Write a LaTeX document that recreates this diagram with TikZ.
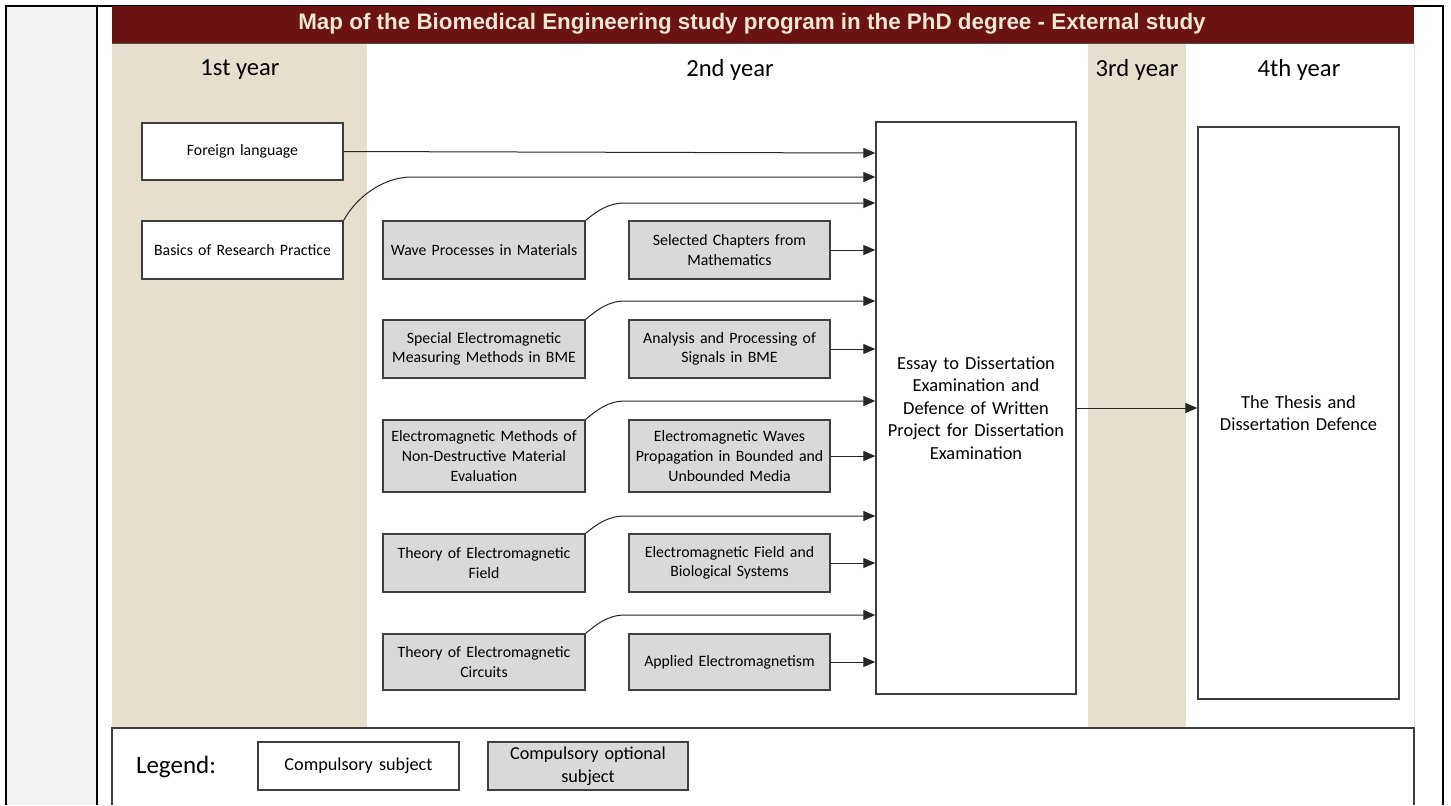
\documentclass[tikz,border=0pt]{standalone}
\usepackage{fontspec}
\setmainfont{Carlito}
\newfontfamily\arialf{Liberation Sans}
\usetikzlibrary{arrows.meta}
\definecolor{titlered}{HTML}{6B1212}
\definecolor{beige}{HTML}{E7DFCD}
\definecolor{titletext}{HTML}{EFE6D4}
\definecolor{optgray}{HTML}{D9D9D9}
\definecolor{stripgray}{HTML}{F2F2F2}
\definecolor{boxline}{HTML}{3F3F3F}
\begin{document}
\begin{tikzpicture}[x=0.5pt,y=-0.5pt,
  subj/.style={draw=boxline, line width=0.7pt, fill=white, inner sep=0pt,
    minimum width=100.5pt, minimum height=29pt, align=center, text width=98pt,
    font=\fontsize{7.9}{9.8}\selectfont},
  opt/.style={subj, fill=optgray},
  bigbox/.style={draw=boxline, line width=0.7pt, fill=white, inner sep=0pt,
    minimum width=100.5pt, minimum height=286pt, align=center, text width=98pt,
    font=\fontsize{9.2}{11.3}\selectfont},
  arr/.style={-{Triangle[length=6pt,width=5pt]}, line width=0.5pt, draw=black!85},
  yearlbl/.style={font=\fontsize{12.3}{14}\selectfont, inner sep=0pt},
  frame/.style={black, line width=1.1pt}]
\useasboundingbox (0,0) rectangle (1451,805);
\fill[white] (0,0) rectangle (1451,805);
% left strip and outer frame
\fill[stripgray] (6,6) rectangle (97,805);
\draw[frame] (6,805) -- (6,6) -- (1443,6) -- (1443,805);
\draw[frame] (97,6) -- (97,805);
% panel backgrounds
\fill[beige] (112,43) rectangle (367,728);
\fill[beige] (1088,43) rectangle (1186,728);
\draw[black!12, line width=0.5pt] (1414,43) -- (1414,728);
% title bar
\fill[titlered] (112,6) rectangle (1414,43);
\draw[black!70, line width=0.5pt] (112,43) -- (1414,43);
\node[font=\arialf\bfseries\fontsize{11.2}{12}\selectfont, text=titletext, inner sep=0pt] (title) at (752,24)
  {Map of the Biomedical Engineering study program in the PhD degree - External study};
% year labels
\node[yearlbl] (y1) at (240,70) {1st year};
\node[yearlbl] (y2) at (730,70) {2nd year};
\node[yearlbl] (y3) at (1137,70) {3rd year};
\node[yearlbl] (y4) at (1299,70) {4th year};
% subject boxes
\node[subj, minimum height=28.5pt] (fl) at (242.5,151.5) {Foreign language};
\node[subj] (brp) at (242.5,250) {Basics of Research Practice};
\node[opt, minimum width=101pt] (wave) at (484,250) {Wave Processes in Materials};
\node[opt] (sel) at (729.5,250) {Selected Chapters from\\Mathematics};
\node[opt, minimum width=101pt] (spec) at (484,349) {Special Electromagnetic\\Measuring Methods in BME};
\node[opt] (ana) at (729.5,349) {Analysis and Processing of\\Signals in BME};
\node[opt, minimum width=101pt, minimum height=36pt] (emm) at (484,456) {Electromagnetic Methods of\\Non-Destructive Material\\Evaluation};
\node[opt, minimum height=36pt] (emw) at (729.5,456) {Electromagnetic Waves\\Propagation in Bounded and\\Unbounded Media};
\node[opt, minimum width=101pt] (tef) at (484,563) {Theory of Electromagnetic\\Field};
\node[opt] (efb) at (729.5,563) {Electromagnetic Field and\\Biological Systems};
\node[opt, minimum width=101pt, minimum height=28pt] (tec) at (484,662) {Theory of Electromagnetic\\Circuits};
\node[opt, minimum height=28pt] (app) at (729.5,662) {Applied Electromagnetism};
\node[bigbox, minimum width=100pt] (essay) at (976,408) {Essay to Dissertation\\Examination and\\Defence of Written\\Project for Dissertation\\Examination};
\node[bigbox] (thesis) at (1298.5,413) {The Thesis and\\Dissertation Defence};
% connectors
\draw[arr] (fl.east) -- (essay.west |- 0,153);
\draw[arr] (brp.north east) .. controls (356,198) and (382,177) .. (412,177) -- (essay.west |- 0,177);
\draw[arr] (wave.north east) .. controls (597,211) and (608,203) .. (625,203) -- (essay.west |- 0,203);
\draw[arr] (sel.east) -- (essay.west |- sel.east);
\draw[arr] (spec.north east) .. controls (597,310) and (608,301) .. (625,301) -- (essay.west |- 0,301);
\draw[arr] (ana.east) -- (essay.west |- ana.east);
\draw[arr] (emm.north east) .. controls (597,410) and (608,401) .. (625,401) -- (essay.west |- 0,401);
\draw[arr] (emw.east) -- (essay.west |- emw.east);
\draw[arr] (tef.north east) .. controls (597,524) and (608,516) .. (625,516) -- (essay.west |- 0,516);
\draw[arr] (efb.east) -- (essay.west |- efb.east);
\draw[arr] (tec.north east) .. controls (597,624) and (608,615) .. (625,615) -- (essay.west |- 0,615);
\draw[arr] (app.east) -- (essay.west |- app.east);
\draw[arr] (essay.east) -- (thesis.west |- essay.east);
% legend
\draw[boxline, line width=0.6pt] (112,805) -- (112,728) -- (1414,728) -- (1414,805);
\node[font=\fontsize{12.5}{14}\selectfont, inner sep=0pt] (leg) at (176,767) {Legend:};
\node[subj, minimum height=24pt, font=\fontsize{9.1}{11.5}\selectfont] (lc) at (358.5,766) {Compulsory subject};
\node[opt, minimum width=100pt, minimum height=24pt, font=\fontsize{9.1}{11.5}\selectfont] (lo) at (588,766) {Compulsory optional\\subject};
\end{tikzpicture}
\end{document}
